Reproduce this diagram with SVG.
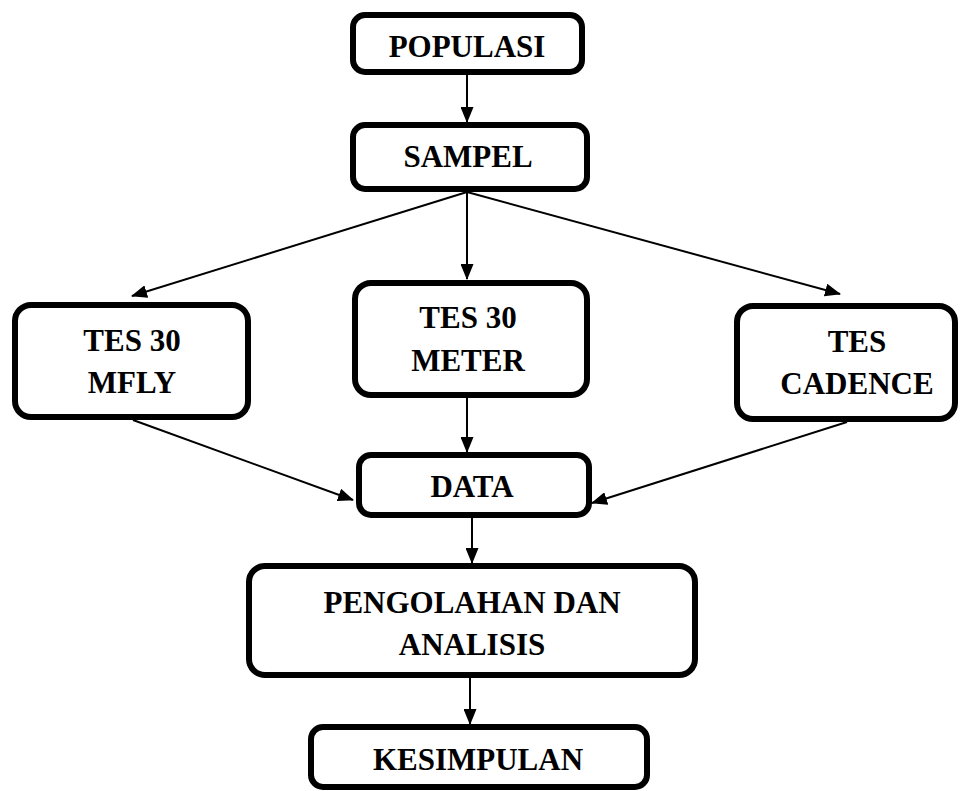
<svg xmlns="http://www.w3.org/2000/svg" width="962" height="791" viewBox="0 0 962 791">
<defs>
<style>
.box{fill:#fff;stroke:#000;stroke-width:6}
.lbl{font-family:'Liberation Serif','Times New Roman',serif;font-weight:bold;font-size:31px;fill:#000;text-anchor:middle}
.edge{stroke:#000;stroke-width:2;fill:none;marker-end:url(#ah)}
</style>
<marker id="ah" viewBox="0 0 16 13" refX="15" refY="6.5" markerWidth="16" markerHeight="13" markerUnits="userSpaceOnUse" orient="auto">
<path d="M0,0 L16,6.5 L0,13 Z" fill="#000"/>
</marker>
</defs>
<rect width="962" height="791" fill="#fff"/>
<g id="connectors">
<line class="edge" x1="467" y1="75" x2="467" y2="122"/>
<line class="edge" x1="467" y1="192" x2="132" y2="296"/>
<line class="edge" x1="467" y1="192" x2="467" y2="279"/>
<line class="edge" x1="467" y1="192" x2="840" y2="294"/>
<line class="edge" x1="467" y1="398" x2="467" y2="452"/>
<line class="edge" x1="133" y1="420" x2="353" y2="500"/>
<line class="edge" x1="847" y1="422" x2="592" y2="503"/>
<line class="edge" x1="472" y1="518" x2="472" y2="563"/>
<line class="edge" x1="470" y1="678" x2="470" y2="724"/>
</g>
<g id="populasi">
<rect class="box" x="353" y="15" width="229" height="57" rx="12"/>
<text class="lbl" x="467" y="57">POPULASI</text>
</g>
<g id="sampel">
<rect class="box" x="353" y="125" width="234" height="64" rx="12"/>
<text class="lbl" x="468" y="167">SAMPEL</text>
</g>
<g id="mfly">
<rect class="box" x="15" y="305" width="233" height="112" rx="16"/>
<text class="lbl" x="132" y="351">TES 30</text>
<text class="lbl" x="132" y="393">MFLY</text>
</g>
<g id="meter">
<rect class="box" x="355" y="283" width="232" height="112" rx="16"/>
<text class="lbl" x="468" y="328">TES 30</text>
<text class="lbl" x="468" y="371">METER</text>
</g>
<g id="cadence">
<rect class="box" x="737" y="306" width="218" height="113" rx="16"/>
<text class="lbl" x="857" y="352">TES</text>
<text class="lbl" x="857" y="394">CADENCE</text>
</g>
<g id="data">
<rect class="box" x="359" y="455" width="230" height="60" rx="12"/>
<text class="lbl" x="472" y="497">DATA</text>
</g>
<g id="pengolahan">
<rect class="box" x="249" y="566" width="446" height="109" rx="16"/>
<text class="lbl" x="472" y="613">PENGOLAHAN DAN</text>
<text class="lbl" x="472" y="655">ANALISIS</text>
</g>
<g id="kesimpulan">
<rect class="box" x="311" y="727" width="336" height="60" rx="12"/>
<text class="lbl" x="478" y="770">KESIMPULAN</text>
</g>
</svg>
